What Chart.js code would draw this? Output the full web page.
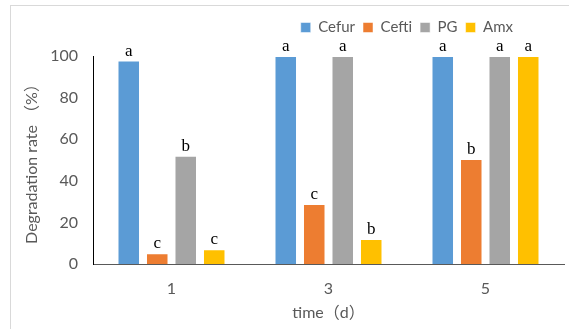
<!DOCTYPE html>
<html>
<head>
<meta charset="utf-8">
<script src="https://cdn.jsdelivr.net/npm/chart.js@4.4.1/dist/chart.umd.min.js"></script>
<style>
  html, body { margin: 0; padding: 0; background: #fff; overflow: hidden; }
  #frame { position: absolute; left: 10px; top: 5px; width: 600px; height: 400px; border: 1px solid #d9d9d9; }
  #wrap { position: absolute; left: 0; top: 0; width: 569px; height: 329px; }
</style>
</head>
<body>
<div id="frame"></div>
<div id="wrap"><canvas id="chart" width="569" height="329"></canvas></div>
<script>
// time points (days)
const days = ['1', '3', '5'];

// degradation rate (%) per antibiotic
const cefur = [97.8, 100, 100];
const cefti = [5.2, 28.8, 50.5];
const pg = [52, 100, 100];
const amx = [7.1, 12, 100];

// significance letters above each bar
const cefurLetters = ['a', 'a', 'a'];
const ceftiLetters = ['c', 'c', 'b'];
const pgLetters = ['b', 'a', 'a'];
const amxLetters = ['c', 'b', 'a'];

const letters = [cefurLetters, ceftiLetters, pgLetters, amxLetters];
const textGrey = '#595959';
const sansFont = 'Lato, "Noto Sans CJK SC", sans-serif';

// draw the letters above the bars
const letterPlugin = {
    id: 'barLetters',
    afterDatasetsDraw(chart) {
        const ctx = chart.ctx;
        ctx.save();
        ctx.font = '17px "Liberation Serif", serif';
        ctx.fillStyle = '#000';
        ctx.textAlign = 'center';
        ctx.textBaseline = 'alphabetic';
        chart.data.datasets.forEach((ds, di) => {
            const meta = chart.getDatasetMeta(di);
            meta.data.forEach((bar, i) => {
                ctx.fillText(letters[di][i], bar.x, bar.y - 5);
            });
        });
        ctx.restore();
    }
};

// move the legend up and to the right like the original
const legendShift = {
    id: 'legendShift',
    afterLayout(chart) {
        chart.legend.right = 521;
        chart.legend.top -= 11;
    }
};

new Chart(document.getElementById('chart'), {
    type: 'bar',
    data: {
        labels: days,
        datasets: [
            { label: 'Cefur', data: cefur, backgroundColor: '#5B9BD5' },
            { label: 'Cefti', data: cefti, backgroundColor: '#ED7D31' },
            { label: 'PG', data: pg, backgroundColor: '#A5A5A5' },
            { label: 'Amx', data: amx, backgroundColor: '#FFC000' }
        ]
    },
    options: {
        responsive: false,
        animation: false,
        devicePixelRatio: 1,
        datasets: {
            bar: {
                categoryPercentage: 0.726,
                barPercentage: 0.79,
                borderColor: 'rgba(255,255,255,0.5)',
                borderWidth: 1,
                borderSkipped: 'bottom'
            }
        },
        layout: {
            padding: { top: 23, right: 5, left: 0, bottom: 0 }
        },
        plugins: {
            legend: {
                display: true,
                position: 'top',
                align: 'end',
                labels: {
                    boxWidth: 10,
                    boxHeight: 10,
                    padding: 8,
                    color: textGrey,
                    font: { family: sansFont, size: 15 }
                }
            },
            tooltip: { enabled: false }
        },
        scales: {
            x: {
                grid: { display: false, drawTicks: false },
                border: { display: true, color: '#595959', width: 1 },
                ticks: {
                    color: textGrey,
                    padding: 15,
                    font: { family: sansFont, size: 16 }
                },
                title: {
                    display: true,
                    text: 'time（d）',
                    color: textGrey,
                    padding: { top: 0, bottom: 7 },
                    font: { family: sansFont, size: 16 }
                },
                afterFit(scale) {
                    scale.height = 65;
                }
            },
            y: {
                min: 0,
                max: 100,
                grid: { display: false, drawTicks: false },
                border: { display: true, color: '#000', width: 1 },
                ticks: {
                    stepSize: 20,
                    color: textGrey,
                    padding: 15,
                    font: { family: sansFont, size: 16 }
                },
                title: {
                    display: true,
                    text: 'Degradation rate （%）',
                    color: textGrey,
                    padding: { top: 22, bottom: 0 },
                    font: { family: sansFont, size: 16 }
                },
                afterFit(scale) {
                    scale.width = 93;
                }
            }
        }
    },
    plugins: [letterPlugin, legendShift]
});
</script>
</body>
</html>
